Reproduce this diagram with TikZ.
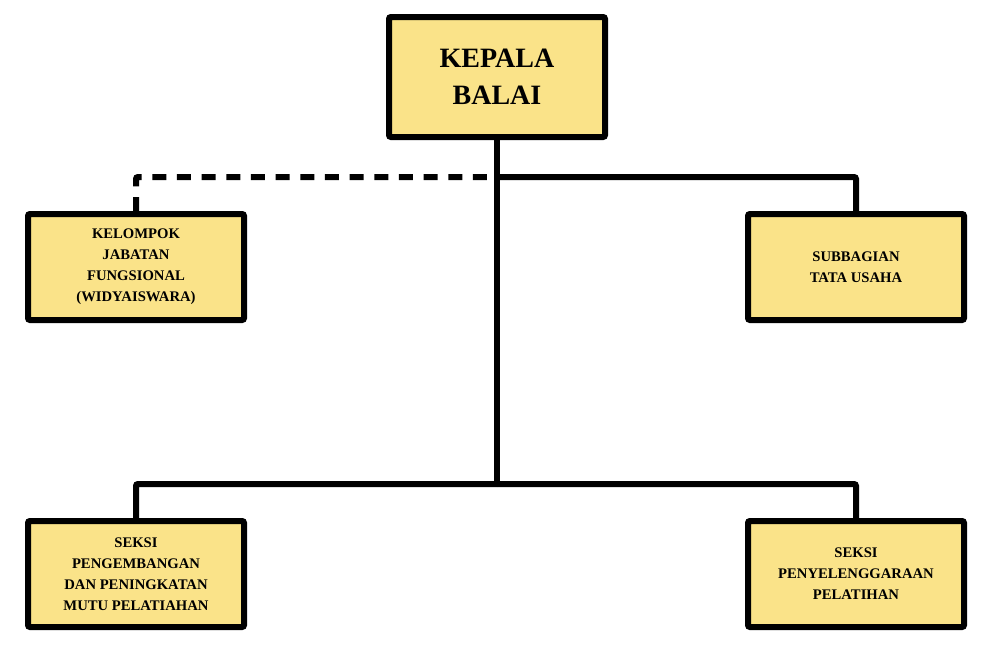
\documentclass[tikz,border=0pt]{standalone}
\usepackage{fontspec}
\setmainfont{Liberation Serif}
\usepackage{xcolor}
\definecolor{boxfill}{RGB}{250,227,137}
\tikzstyle{unit}=[draw, line width=4.5pt, fill=boxfill, rounded corners=1.5pt, minimum width=162pt, minimum height=79.5pt, align=center, font=\bfseries\fontsize{11}{15.8}\selectfont]
\tikzstyle{head}=[minimum height=90pt, font=\bfseries\fontsize{21}{27.5}\selectfont]
\tikzset{link/.style={line width=4.5pt, rounded corners=1.5pt}}
\tikzset{staff/.style={dash pattern=on 10.5pt off 8pt}}

\begin{document}
\begin{tikzpicture}[x=0.75pt,y=-0.75pt]
  \useasboundingbox (0,0) rectangle (992,661);
  \draw (497,77) node[unit,head] (kb) {KEPALA\\BALAI};

  \draw (136,267) node[unit] (kjf) {KELOMPOK\\JABATAN\\FUNGSIONAL\\(WIDYAISWARA)};
  \draw (856,267) node[unit] (tu) {SUBBAGIAN\\TATA USAHA};

  \draw (136,574) node[unit] (spm) {SEKSI\\PENGEMBANGAN\\DAN PENINGKATAN\\MUTU PELATIAHAN};
  \draw (856,574) node[unit] (spp) {SEKSI\\PENYELENGGARAAN\\PELATIHAN};

  %% Branch points
  \coordinate (top) at (497,177);
  \coordinate (bot) at (497,484);

  \draw[link] (kb) -- (bot);
  \draw[link,staff] (kjf) |- (top);
  \draw[link] (top) -| (tu);
  \draw[link] (bot) -| (spm);
  \draw[link] (bot) -| (spp);
\end{tikzpicture}
\end{document}
